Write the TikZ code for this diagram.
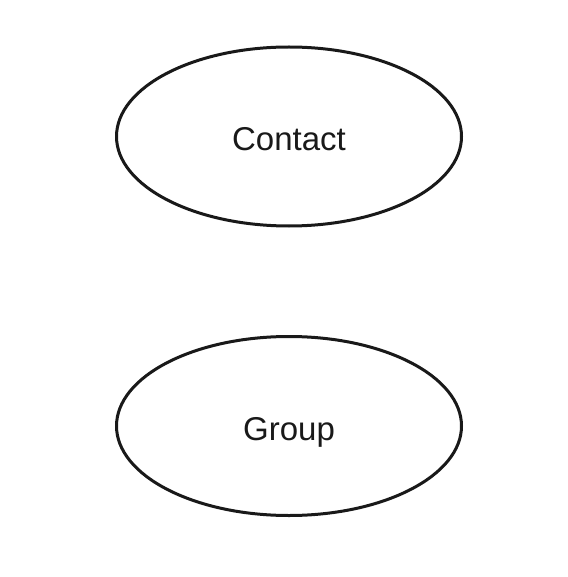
\documentclass[tikz,border=0pt]{standalone}
\usepackage{fontspec}
\setmainfont{Liberation Sans}
\usetikzlibrary{shapes.geometric}
\begin{document}
\begin{tikzpicture}[x=1pt,y=-1pt,
  entity/.style={ellipse,draw=black!90,line width=3pt,inner sep=0pt,
    minimum width=345pt,minimum height=179pt,
    text height=28.5pt,text depth=0pt,
    font=\fontsize{33}{36}\selectfont,text=black!90}]
\useasboundingbox (0,0) rectangle (567,577);
\node[entity] (contact) at (289,136.5) {Contact};
\node[entity] (group) at (289,426) {Group};
\end{tikzpicture}
\end{document}
